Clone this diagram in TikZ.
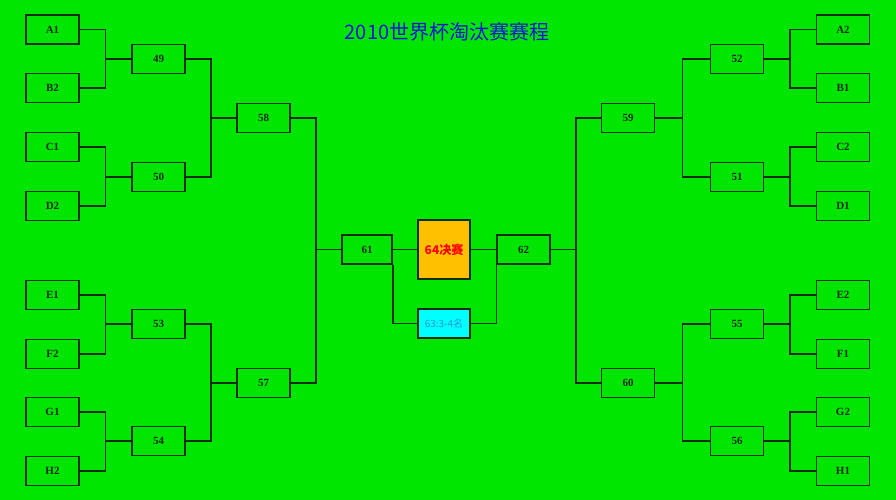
\documentclass[tikz,border=0pt]{standalone}
\usepackage{fontspec}
\setmainfont{Liberation Serif}
\newfontfamily\cjk{Noto Sans CJK SC}
\usetikzlibrary{calc}
\definecolor{bg}{RGB}{0,230,0}
\definecolor{ln}{RGB}{10,45,10}
\definecolor{org}{RGB}{255,192,0}
\definecolor{cy}{RGB}{0,255,255}
\definecolor{ttl}{RGB}{20,20,220}
\begin{document}
\begin{tikzpicture}[x=1pt,y=-1pt,
  tm/.style={draw=ln,line width=1.5pt,minimum width=53pt,minimum height=29pt,inner sep=0pt,text={rgb,255:red,10;green,40;blue,10},font=\bfseries\fontsize{11}{12}\selectfont},
  cn/.style={draw=ln,line width=1.5pt}]
\fill[bg] (0,0) rectangle (896,500);
\useasboundingbox (0,0) rectangle (896,500);
\node[font=\cjk\fontsize{20}{22}\selectfont,text=ttl] (title) at (447,32) {2010世界杯淘汰赛赛程};
\foreach \n/\y in {A1/29.5,B2/88,C1/147,D2/206,E1/295,F2/354,G1/412,H2/471}
  \node[tm] (\n) at (52.5,\y) {\n};
\foreach \n/\y in {A2/29.5,B1/88,C2/147,D1/206,E2/295,F1/354,G2/412,H1/471}
  \node[tm] (\n) at (843,\y) {\n};
\foreach \n/\y in {49/59,50/177,53/324,54/441}
  \node[tm] (n\n) at (158.5,\y) {\n};
\foreach \n/\y in {52/59,51/177,55/324,56/441}
  \node[tm] (n\n) at (737,\y) {\n};
\node[tm] (n58) at (263.5,118) {58};
\node[tm] (n57) at (263.5,383) {57};
\node[tm] (n59) at (628,118) {59};
\node[tm] (n60) at (628,383) {60};
\node[tm,minimum width=50pt] (n61) at (367,249.5) {61};
\node[tm] (n62) at (523.5,249.5) {62};
\node[tm,fill=org,minimum width=52pt,minimum height=59pt,text=red,font=\cjk\bfseries\fontsize{12}{13}\selectfont] (n64) at (444,249.5) {64决赛};
\node[tm,fill=cy,minimum width=52pt,text={rgb,255:red,40;green,150;blue,210},font=\cjk\fontsize{10}{11}\selectfont] (n63) at (444,323.5) {63:3-4名};
\newcommand{\bkL}[3]{\draw[cn] (#1.east) -| ($(#1.east)!0.5!(#3.west)$) |- (#3.west); \draw[cn] (#2.east) -| ($(#1.east)!0.5!(#3.west)$);}
\newcommand{\bkR}[3]{\draw[cn] (#1.west) -| ($(#1.west)!0.5!(#3.east)$) |- (#3.east); \draw[cn] (#2.west) -| ($(#1.west)!0.5!(#3.east)$);}
\bkL{A1}{B2}{n49}\bkL{C1}{D2}{n50}\bkL{E1}{F2}{n53}\bkL{G1}{H2}{n54}
\bkL{n49}{n50}{n58}\bkL{n53}{n54}{n57}\bkL{n58}{n57}{n61}
\bkR{A2}{B1}{n52}\bkR{C2}{D1}{n51}\bkR{E2}{F1}{n55}\bkR{G2}{H1}{n56}
\bkR{n52}{n51}{n59}\bkR{n55}{n56}{n60}\bkR{n59}{n60}{n62}
\draw[cn] (n61.east) -- (n64.west);
\draw[cn] (n64.east) -- (n62.west);
\draw[cn] (n61.south east) |- (n63.west);
\draw[cn] (n62.south west) |- (n63.east);
\end{tikzpicture}
\end{document}
